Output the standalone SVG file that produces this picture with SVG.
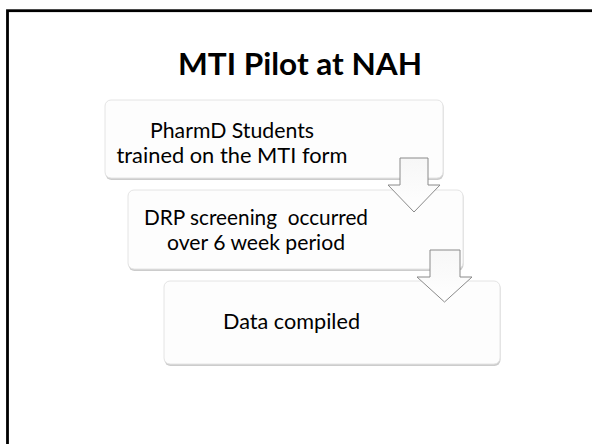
<svg xmlns="http://www.w3.org/2000/svg" width="592" height="444" viewBox="0 0 592 444">
<defs>
<style>
.box{fill:#fdfdfd;stroke:#e4e4e4;stroke-width:1}
.shadow{fill:#cccccc}
.txt{font-family:Lato,"Liberation Sans",Arial,sans-serif;font-size:22px;fill:#000;text-anchor:middle;white-space:pre}
.title{font-family:Lato,"Liberation Sans",Arial,sans-serif;font-size:31px;font-weight:bold;fill:#000;text-anchor:middle}
.arrow{fill:url(#ag);stroke:#8a8a8a;stroke-width:1}
</style>
<linearGradient id="ag" x1="0" y1="0" x2="0" y2="1">
<stop offset="0" stop-color="#f7f7f7"/>
<stop offset="1" stop-color="#ffffff"/>
</linearGradient>
</defs>
<rect x="0" y="0" width="592" height="444" fill="#fff"/>
<rect x="7.5" y="10.7" width="700" height="500" fill="none" stroke="#000" stroke-width="2.8"/>
<text class="title" x="300" y="75" textLength="244" lengthAdjust="spacingAndGlyphs">MTI Pilot at NAH</text>
<g id="node1">
<rect class="shadow" x="105.5" y="101" width="338" height="79" rx="6"/>
<rect class="box" x="105" y="100" width="338" height="78" rx="6"/>
<text class="txt" x="232" y="138" textLength="164" lengthAdjust="spacingAndGlyphs">PharmD Students</text>
<text class="txt" x="232" y="163" textLength="231" lengthAdjust="spacingAndGlyphs">trained on the MTI form</text>
</g>
<g id="node2">
<rect class="shadow" x="128.5" y="191" width="335" height="80" rx="6"/>
<rect class="box" x="128" y="190" width="335" height="79" rx="6"/>
<text class="txt" x="256" y="225" textLength="224" lengthAdjust="spacingAndGlyphs">DRP screening  occurred</text>
<text class="txt" x="256" y="250" textLength="178" lengthAdjust="spacingAndGlyphs">over 6 week period</text>
</g>
<g id="node3">
<rect class="shadow" x="164.5" y="282" width="336" height="84" rx="6"/>
<rect class="box" x="164" y="281" width="336" height="83" rx="6"/>
<text class="txt" x="291.5" y="329" textLength="137" lengthAdjust="spacingAndGlyphs">Data compiled</text>
</g>
<g id="connectors">
<path class="arrow" d="M400 158 H428 V185 H440 L414 212 L388 185 H400 Z"/>
<path class="arrow" d="M430 250 H460 V277 H472 L444.5 302 L417 277 H430 Z"/>
</g>
</svg>
